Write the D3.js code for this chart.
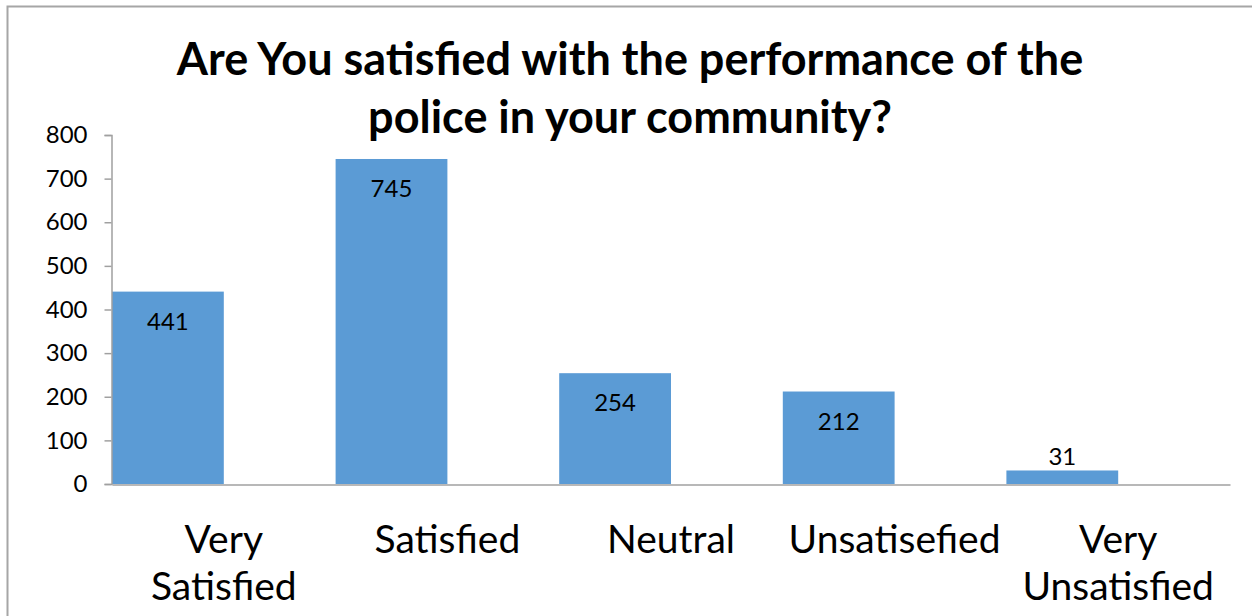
<!DOCTYPE html>
<html>
<head>
<meta charset="utf-8">
<script src="https://cdn.jsdelivr.net/npm/d3@7"></script>
<style>
  html, body { margin: 0; padding: 0; background: #fff; }
  svg { display: block; }
  text { font-family: Lato, "Open Sans", sans-serif; fill: #000; }
</style>
</head>
<body>
<svg id="chart" width="1252" height="616"></svg>
<script>
// Survey responses
const categories = [["Very", "Satisfied"], ["Satisfied"], ["Neutral"], ["Unsatisefied"], ["Very", "Unsatisfied"]];
const counts = [441, 745, 254, 212, 31];
const yTicks = [0, 100, 200, 300, 400, 500, 600, 700, 800];
const titleLines = ["Are You satisfied with the performance of the", "police in your community?"];

const svg = d3.select("#chart");

// outer frame of the chart area
svg.append("rect")
  .attr("x", 7.5).attr("y", 6.5)
  .attr("width", 1260).attr("height", 640)
  .attr("fill", "#fff")
  .attr("stroke", "#a6a6a6")
  .attr("stroke-width", 2);

const plot = { left: 112, right: 1230, top: 135, bottom: 484 };

const keys = categories.map((c, i) => i);
const x = d3.scaleBand().domain(keys).range([plot.left, plot.right]).paddingInner(0).paddingOuter(0);
const y = d3.scaleLinear().domain([0, 800]).range([plot.bottom, plot.top]);

// title
svg.append("text")
  .attr("x", 630).attr("text-anchor", "middle")
  .style("font-weight", "bold").style("font-size", "45px")
  .selectAll("tspan").data(titleLines).join("tspan")
  .attr("x", 630)
  .attr("y", (d, i) => 75 + i * 58)
  .text(d => d);

// bars sit in the left half of each category slot
const bw = x.bandwidth() / 2;
svg.append("g").selectAll("rect").data(counts).join("rect")
  .attr("x", (d, i) => x(i))
  .attr("y", d => y(d))
  .attr("width", bw)
  .attr("height", d => y(0) - y(d))
  .attr("fill", "#5b9bd5");

// y axis
const yAxis = d3.axisLeft(y).tickValues(yTicks).tickSize(7).tickPadding(17);
const gy = svg.append("g").attr("transform", `translate(${plot.left - 0.5},0)`).call(yAxis);
gy.selectAll("path, line").attr("stroke", "#a0a0a0").attr("stroke-width", 1.5);
gy.selectAll("text").style("font-family", "Lato, sans-serif").style("font-size", "24px").attr("fill", "#000");

// x axis baseline
const xAxis = d3.axisBottom(x).tickSize(0).tickFormat("");
const gx = svg.append("g").attr("transform", `translate(0,${plot.bottom + 0.5})`).call(xAxis);
gx.select("path").attr("stroke", "#a0a0a0").attr("stroke-width", 1.5);

// category labels, centred on each slot
svg.append("g").selectAll("text").data(categories).join("text")
  .attr("text-anchor", "middle")
  .style("font-size", "39px")
  .each(function (lines, i) {
    const cx = x(i) + x.bandwidth() / 2;
    d3.select(this).selectAll("tspan").data(lines).join("tspan")
      .attr("x", cx)
      .attr("y", (d, j) => 553 + j * 47)
      .text(d => d);
  });

// value labels: inside the top of the bar, or above it when the bar is short
svg.append("g").selectAll("text").data(counts).join("text")
  .attr("text-anchor", "middle")
  .style("font-size", "24px")
  .attr("x", (d, i) => x(i) + bw / 2)
  .attr("y", d => (y(0) - y(d) > 40) ? y(d) + 38 : y(d) - 5)
  .text(d => d);
</script>
</body>
</html>
